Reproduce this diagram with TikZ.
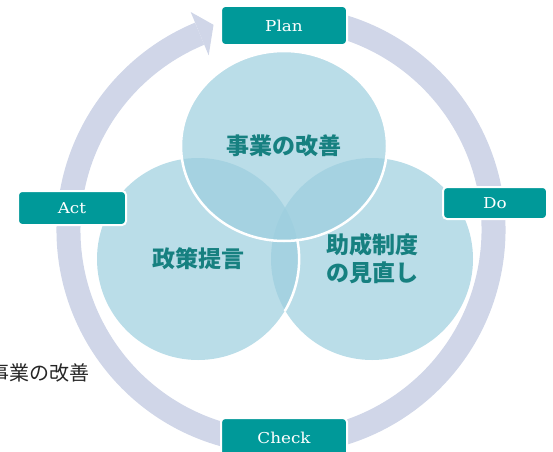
\documentclass[tikz,border=0pt]{standalone}
\usepackage{fontspec}
\newfontfamily\boxfont{DejaVu Serif}[FakeStretch=1.12]
\newfontfamily\jpfont{Noto Sans CJK JP}
\usetikzlibrary{shapes.geometric}

\definecolor{ringgray}{HTML}{D0D6E8}
\definecolor{boxteal}{HTML}{009999}
\definecolor{vennblue}{RGB}{156,206,222}
\definecolor{venntext}{HTML}{168080}

\tikzset{
  phase/.style={rectangle, rounded corners=4pt, fill=boxteal, draw=white, line width=2pt,
    text=white, minimum width=126pt, minimum height=39pt, inner sep=0pt,
    font=\boxfont\fontsize{15}{17}\selectfont},
  venn/.style={circle, fill=vennblue, fill opacity=0.7, text opacity=1, minimum size=202pt,
    inner sep=0pt, text=venntext, align=center,
    font=\jpfont\bfseries\fontsize{23}{28}\selectfont}
}

\begin{document}
\begin{tikzpicture}[x=1pt,y=1pt]
\useasboundingbox (0,0) rectangle (553,451);
\coordinate (c) at (281,221);

%the cycle ring with its arrow head
\draw[ringgray, line width=24pt] (c) ++(80:212.5) arc[start angle=80, end angle=-247.5, radius=212.5];
\begin{scope}[shift={(c)}]
\fill[ringgray] (112.5:236) -- (108.2:216) -- (112.5:189) -- cycle;
\end{scope}

%the three circles
\node[venn] (seido) at (372,192) {助成制度\\の見直し};
\node[venn] (teigen) at (198,192) {政策提言};
\draw[white, line width=2.5pt] (teigen.-31) arc[start angle=-31, end angle=12, radius=101];
\node[venn, ellipse, draw=white, line width=2.5pt, minimum width=206pt, minimum height=190pt] (kaizen) at (284,305) {事業の改善};

%the four phases
\node[phase] (plan) at (284,425.5) {Plan};
\node[phase, minimum width=104pt, minimum height=32pt] (do) at (495,248) {Do};
\node[phase] (check) at (284,13.5) {Check};
\node[phase, minimum width=108pt, minimum height=34pt] (act) at (72,243) {Act};

%the note on the left
\node[anchor=east, inner sep=0pt, text=black!85, font=\jpfont\fontsize{20}{24}\selectfont] (note) at (90,78) {事業の改善};
\end{tikzpicture}
\end{document}
